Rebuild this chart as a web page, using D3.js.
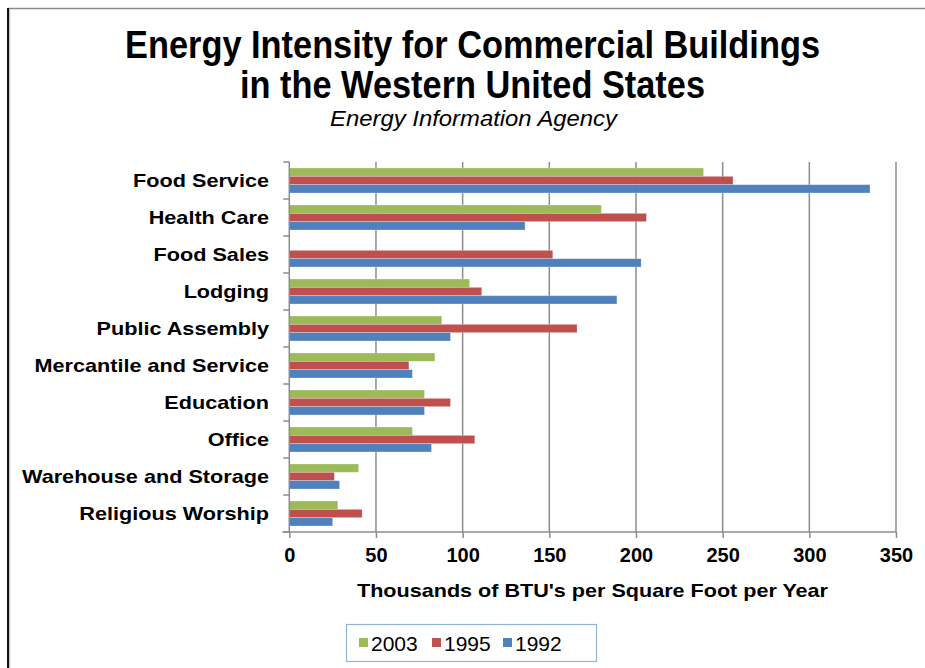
<!DOCTYPE html>
<html>
<head>
<meta charset="utf-8">
<script src="https://cdn.jsdelivr.net/npm/d3@7"></script>
<style>
  html, body { margin: 0; padding: 0; background: #fff; }
  svg { display: block; font-family: "Liberation Sans", Arial, sans-serif; }
</style>
</head>
<body>
<svg id="chart" width="925" height="668"></svg>
<script>
// Building types, top to bottom
const categories = [
  "Food Service", "Health Care", "Food Sales", "Lodging", "Public Assembly",
  "Mercantile and Service", "Education", "Office", "Warehouse and Storage", "Religious Worship"
];
// Survey years, in the order the bars are stacked within each group
const seriesNames = ["2003", "1995", "1992"];
// Thousands of BTU per square foot per year
const values2003 = [239, 180, 0, 104, 88, 84, 78, 71, 40, 28];
const values1995 = [256, 206, 152, 111, 166, 69, 93, 107, 26, 42];
const values1992 = [335, 136, 203, 189, 93, 71, 78, 82, 29, 25];
const xTicks = [0, 50, 100, 150, 200, 250, 300, 350];

const seriesValues = { "2003": values2003, "1995": values1995, "1992": values1992 };
const colors = { "2003": "#9BBB59", "1995": "#C0504D", "1992": "#4F81BD" };

const svg = d3.select("#chart");
const W = 925, H = 668;

// Frame edges
svg.append("line").attr("x1", 8).attr("x2", W).attr("y1", 8.5).attr("y2", 8.5)
  .attr("stroke", "#8a8a8a").attr("stroke-width", 1.5);
svg.append("line").attr("x1", 9.5).attr("x2", 9.5).attr("y1", 9).attr("y2", H)
  .attr("stroke", "#c8c8c8").attr("stroke-width", 1.5);
svg.append("line").attr("x1", 8).attr("x2", 8).attr("y1", 8).attr("y2", H)
  .attr("stroke", "#111").attr("stroke-width", 2);

// Fit a text element to a given width by stretching glyphs
function fitWidth(sel, w) {
  sel.attr("textLength", w).attr("lengthAdjust", "spacingAndGlyphs");
}
function stretch(sel, k) {
  sel.each(function () {
    const n = this.getComputedTextLength();
    d3.select(this).attr("textLength", n * k).attr("lengthAdjust", "spacingAndGlyphs");
  });
}

// Titles
const t1 = svg.append("text").attr("x", 472.5).attr("y", 58).attr("text-anchor", "middle")
  .attr("font-size", 38).attr("font-weight", "bold").attr("fill", "#000")
  .text("Energy Intensity for Commercial Buildings");
fitWidth(t1, 695);
const t2 = svg.append("text").attr("x", 472.5).attr("y", 98).attr("text-anchor", "middle")
  .attr("font-size", 38).attr("font-weight", "bold").attr("fill", "#000")
  .text("in the Western United States");
fitWidth(t2, 465);
const t3 = svg.append("text").attr("x", 473.5).attr("y", 126).attr("text-anchor", "middle")
  .attr("font-size", 22).attr("font-style", "italic").attr("fill", "#000")
  .text("Energy Information Agency");
fitWidth(t3, 287);

// Scales
const plot = { left: 289.3, right: 896, top: 162, bottom: 532 };
const x = d3.scaleLinear().domain([0, 350]).range([plot.left, plot.right]);
const y = d3.scaleBand().domain(categories).range([plot.top, plot.bottom])
  .paddingInner(12 / 37).paddingOuter(6 / 37);
const ySub = d3.scaleBand().domain(seriesNames).range([0, y.bandwidth()]);

// Vertical gridlines
svg.append("g").selectAll("line").data(xTicks.filter(d => d > 0)).join("line")
  .attr("x1", d => x(d)).attr("x2", d => x(d))
  .attr("y1", plot.top).attr("y2", plot.bottom)
  .attr("stroke", "#8c8c8c").attr("stroke-width", 1.5);

// Bars
const groups = svg.append("g").selectAll("g").data(categories).join("g")
  .attr("transform", d => `translate(0,${y(d)})`);
groups.selectAll("rect")
  .data((c, i) => seriesNames.map(s => ({ s, v: seriesValues[s][i] })))
  .join("rect")
  .attr("x", x(0))
  .attr("y", d => ySub(d.s))
  .attr("width", d => Math.max(0, x(d.v) - x(0)))
  .attr("height", ySub.bandwidth())
  .attr("fill", d => colors[d.s])
  .attr("stroke", "#ffffff").attr("stroke-opacity", 0.35).attr("stroke-width", 0.8);

// Category axis
const yAxis = svg.append("g");
yAxis.append("line").attr("x1", plot.left).attr("x2", plot.left)
  .attr("y1", plot.top).attr("y2", plot.bottom)
  .attr("stroke", "#8c8c8c").attr("stroke-width", 1.5);
const boundaries = d3.range(categories.length + 1).map(i => plot.top + i * y.step());
yAxis.selectAll("line.tick").data(boundaries).join("line").attr("class", "tick")
  .attr("x1", plot.left - 6).attr("x2", plot.left)
  .attr("y1", d => d).attr("y2", d => d)
  .attr("stroke", "#8c8c8c").attr("stroke-width", 1.5);
const catLabels = yAxis.selectAll("text").data(categories).join("text")
  .attr("x", 269).attr("y", d => y(d) + y.bandwidth() / 2).attr("dy", "0.36em")
  .attr("text-anchor", "end").attr("font-size", 18.5).attr("font-weight", "bold")
  .attr("fill", "#000").text(d => d);
stretch(catLabels, 1.17);

// Value axis
const xAxis = svg.append("g").attr("transform", `translate(0,${plot.bottom})`)
  .call(d3.axisBottom(x).tickValues(xTicks).tickSize(6).tickPadding(10).tickFormat(d3.format("d")));
xAxis.select(".domain").attr("d", `M${plot.left - 7},0H${plot.right}`)
  .attr("stroke", "#8c8c8c").attr("stroke-width", 1.5);
xAxis.selectAll(".tick line").attr("stroke", "#8c8c8c").attr("stroke-width", 1.5);
xAxis.selectAll(".tick text").attr("font-size", 20).attr("font-weight", "bold")
  .attr("fill", "#000").attr("font-family", "Liberation Sans, Arial, sans-serif");

const xTitle = svg.append("text").attr("x", 592.5).attr("y", 597).attr("text-anchor", "middle")
  .attr("font-size", 19).attr("font-weight", "bold").attr("fill", "#000")
  .text("Thousands of BTU's per Square Foot per Year");
fitWidth(xTitle, 471);

// Legend
const legend = svg.append("g");
legend.append("rect").attr("x", 346.5).attr("y", 624.5).attr("width", 250).attr("height", 37)
  .attr("fill", "#fff").attr("stroke", "#95b3d7").attr("stroke-width", 1.2);
const legendX = [359, 432, 503];
const items = legend.selectAll("g").data(seriesNames).join("g")
  .attr("transform", (d, i) => `translate(${legendX[i]},638)`);
items.append("rect").attr("width", 9).attr("height", 9).attr("fill", d => colors[d]);
items.append("text").attr("x", 12).attr("y", 13).attr("font-size", 21)
  .attr("fill", "#000").text(d => d);
</script>
</body>
</html>
